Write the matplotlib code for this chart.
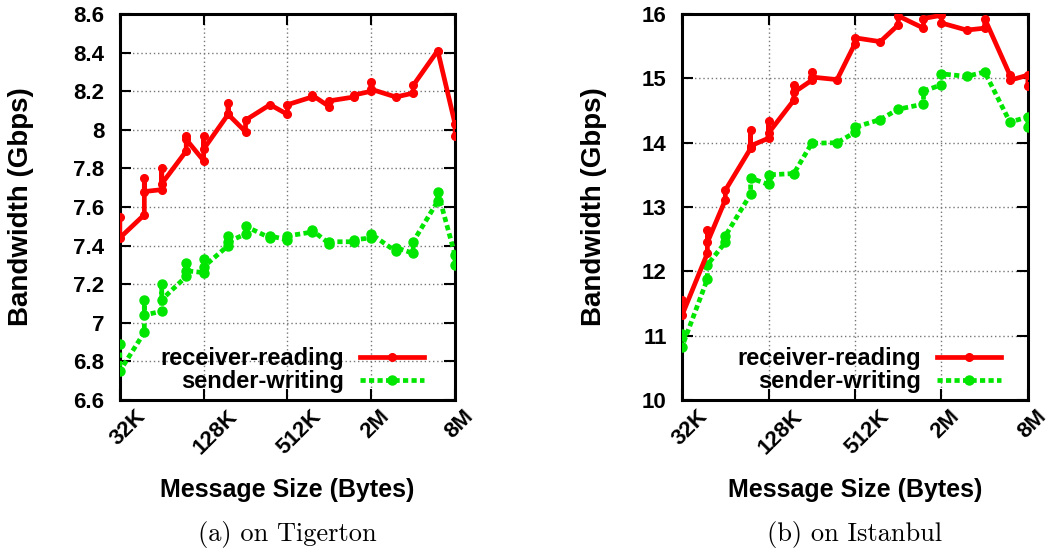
import matplotlib
matplotlib.use("Agg")
import matplotlib.pyplot as plt
from matplotlib.ticker import FixedLocator, FuncFormatter, NullLocator
from matplotlib.transforms import ScaledTranslation

# ---------------- data ----------------
sizes_kb = [32, 48, 64, 96, 128, 192, 256, 384, 512, 768, 1024, 1536, 2048, 3072, 4096, 6144, 8192]

tigerton_receiver = [
    [7.55, 7.44], [7.56, 7.75, 7.68], [7.69, 7.80, 7.72], [7.89, 7.97, 7.95],
    [7.84, 7.97, 7.90], [8.08, 8.14, 8.08], [7.99, 8.05], [8.13],
    [8.08, 8.13], [8.17, 8.18], [8.12, 8.15], [8.17, 8.18],
    [8.20, 8.25, 8.21], [8.17], [8.19, 8.23], [8.41], [8.03, 7.97],
]
tigerton_sender = [
    [6.89, 6.75], [6.95, 7.12, 7.04], [7.06, 7.20, 7.12], [7.24, 7.31, 7.27],
    [7.26, 7.33, 7.29], [7.40, 7.45, 7.42], [7.46, 7.50], [7.44, 7.45],
    [7.43, 7.45], [7.47, 7.48], [7.41, 7.42], [7.42, 7.43],
    [7.44, 7.46], [7.37, 7.39], [7.36, 7.42], [7.63, 7.68], [7.35, 7.30],
]
istanbul_receiver = [
    [11.55, 11.32], [12.28, 12.64, 12.45], [13.11, 13.26], [13.91, 14.20, 13.95],
    [14.07, 14.33, 14.15], [14.66, 14.90, 14.78], [14.97, 15.10, 15.02], [14.98],
    [15.54, 15.63], [15.57], [15.83, 15.97], [15.78, 15.93],
    [15.98, 15.86], [15.75], [15.78, 15.93], [15.05, 14.97], [15.05, 14.88],
]
istanbul_sender = [
    [11.02, 10.83], [11.88, 12.10], [12.45, 12.55], [13.20, 13.45],
    [13.35, 13.50], [13.52], [13.99], [14.00],
    [14.16, 14.24], [14.36], [14.52], [14.60, 14.80],
    [14.90, 15.07], [15.03], [15.10], [14.32], [14.40, 14.25],
]

xtick_kb = [32, 128, 512, 2048, 8192]
xtick_labels = ["32K", "128K", "512K", "2M", "8M"]
tigerton_yticks = [6.6, 6.8, 7.0, 7.2, 7.4, 7.6, 7.8, 8.0, 8.2, 8.4, 8.6]
istanbul_yticks = [10, 11, 12, 13, 14, 15, 16]
series_labels = ["receiver-reading", "sender-writing"]
captions = ["(a) on Tigerton", "(b) on Istanbul"]

# ---------------- style ----------------
SANS = ["Liberation Sans", "DejaVu Sans"]
plt.rcParams["font.family"] = SANS
plt.rcParams["font.weight"] = "bold"

RED = "#ff0000"
GREEN = "#00e600"


def flatten(groups):
    xs, ys = [], []
    for kb, grp in zip(sizes_kb, groups):
        for v in grp:
            xs.append(kb * 1024)
            ys.append(v)
    return xs, ys


fig = plt.figure(figsize=(10.51, 5.54), dpi=100)

panels = [
    # left, right, receiver, sender, yticks, caption, ylabel x, legend anchor x
    (0.114, 0.433, tigerton_receiver, tigerton_sender, tigerton_yticks, captions[0], -0.296, 0.943),
    (0.649, 0.978, istanbul_receiver, istanbul_sender, istanbul_yticks, captions[1], -0.256, 0.957),
]

for (l, r, rec, snd, yt, cap, ylx, legx) in panels:
    ax = fig.add_axes([l, 1 - 400 / 554, r - l, (400 - 14) / 554])
    xr, yr = flatten(rec)
    xs, ys = flatten(snd)
    ax.plot(xr, yr, color=RED, lw=3.4, marker="o", ms=5.5,
            label=series_labels[0], zorder=4)
    ax.plot(xs, ys, color=GREEN, lw=3.4, marker="o", ms=6.5, dashes=(1.1, 0.7),
            label=series_labels[1], zorder=3)
    ax.set_xscale("log", base=2)
    ax.set_xlim(32 * 1024, 8192 * 1024)
    ax.set_ylim(yt[0], yt[-1])
    ax.xaxis.set_major_locator(FixedLocator([k * 1024 for k in xtick_kb]))
    ax.xaxis.set_minor_locator(NullLocator())
    ax.set_xticklabels(xtick_labels, rotation=45, ha="left", va="top",
                       fontsize=16, fontweight="bold")
    ax.yaxis.set_major_locator(FixedLocator(yt))
    ax.yaxis.set_major_formatter(FuncFormatter(lambda v, p: "%g" % round(v, 3)))
    for t in ax.get_yticklabels():
        t.set_fontsize(16)
        t.set_fontweight("bold")
    ax.tick_params(direction="in", length=8, width=1.5, top=True, right=True,
                   colors="black")
    ax.tick_params(axis="y", pad=11)
    ax.tick_params(axis="x", pad=4)
    # shift x tick labels left (after tick_params, which resets transforms)
    off = ScaledTranslation(-14 / 100, 0, fig.dpi_scale_trans)
    for tk in ax.xaxis.get_major_ticks():
        tk.label1.set_transform(tk.label1.get_transform() + off)
    ax.grid(True, color="#777777", ls=(0, (1, 2)), lw=1.0)
    for s in ax.spines.values():
        s.set_linewidth(2.2)
    ax.set_ylabel("Bandwidth (Gbps)", fontsize=20, fontweight="bold")
    ax.yaxis.set_label_coords(ylx, 0.5)
    ax.yaxis.label.set_va("center")
    ax.set_xlabel("Message Size (Bytes)", fontsize=18, fontweight="bold")
    ax.xaxis.set_label_coords(0.5, -0.233)
    ax.xaxis.label.set_va("center")
    ax.legend(loc="lower right", bbox_to_anchor=(legx, -0.013), frameon=False,
              markerfirst=False, handlelength=2.7, handletextpad=0.7,
              labelspacing=0.0, borderpad=0.0,
              prop={"size": 17, "weight": "bold", "family": SANS})
    xc = (l + r) / 2
    fig.text(xc, 1 - 535 / 554, cap, ha="center", va="center", fontsize=19,
             family="cmr10", fontweight="normal")

fig.savefig("out.png", dpi=100)
